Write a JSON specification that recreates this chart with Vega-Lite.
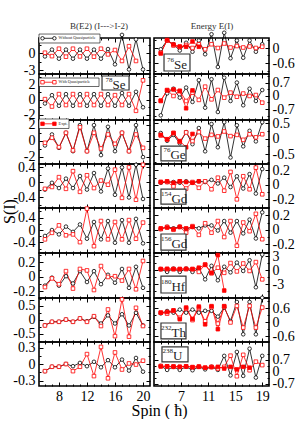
{
"$schema":"https://vega.github.io/schema/vega-lite/v6.json",
"background":"white",
"padding":{"left":0,"top":20,"right":0,"bottom":0},
"config":{"view":{"stroke":"black","strokeWidth":1.6},
"axis":{"domain":false,"grid":false,"tickColor":"black","tickWidth":1,"labelFont":"Liberation Serif","labelFontSize":14,"labelColor":"black","titleFont":"Liberation Serif","titleFontWeight":"normal","titleColor":"black","labelFlush":false,"labelOverlap":false,"labelExpr":"datum.value + ''"}},
"data":{"values":[
{"p":"L1","s":"wo","x":6,"y":-0.6},{"p":"L1","s":"wo","x":7,"y":0.6},{"p":"L1","s":"wo","x":8,"y":-1.0},{"p":"L1","s":"wo","x":9,"y":0.6},{"p":"L1","s":"wo","x":10,"y":-1.0},{"p":"L1","s":"wo","x":11,"y":0.6},{"p":"L1","s":"wo","x":12,"y":-1.0},{"p":"L1","s":"wo","x":13,"y":0.6},{"p":"L1","s":"wo","x":14,"y":-1.0},{"p":"L1","s":"wo","x":15,"y":0.7},{"p":"L1","s":"wo","x":16,"y":-2.0},{"p":"L1","s":"wo","x":17,"y":3.2},{"p":"L1","s":"wo","x":18,"y":-2.9},{"p":"L1","s":"wo","x":19,"y":2.4},{"p":"L1","s":"wo","x":20,"y":-2.9},
{"p":"L1","s":"w","x":6,"y":0.05},{"p":"L1","s":"w","x":7,"y":-0.55},{"p":"L1","s":"w","x":8,"y":0.76},{"p":"L1","s":"w","x":9,"y":-0.65},{"p":"L1","s":"w","x":10,"y":0.76},{"p":"L1","s":"w","x":11,"y":-0.6},{"p":"L1","s":"w","x":12,"y":0.76},{"p":"L1","s":"w","x":13,"y":-0.65},{"p":"L1","s":"w","x":14,"y":0.76},{"p":"L1","s":"w","x":15,"y":-0.24},{"p":"L1","s":"w","x":16,"y":0.53},{"p":"L1","s":"w","x":17,"y":-1.4},{"p":"L1","s":"w","x":18,"y":1.2},{"p":"L1","s":"w","x":19,"y":-1.4},
{"p":"L2","s":"wo","x":6,"y":-0.49},{"p":"L2","s":"wo","x":7,"y":0.62},{"p":"L2","s":"wo","x":8,"y":-0.8},{"p":"L2","s":"wo","x":9,"y":0.76},{"p":"L2","s":"wo","x":10,"y":-0.8},{"p":"L2","s":"wo","x":11,"y":0.76},{"p":"L2","s":"wo","x":12,"y":-0.8},{"p":"L2","s":"wo","x":13,"y":0.76},{"p":"L2","s":"wo","x":14,"y":-0.8},{"p":"L2","s":"wo","x":15,"y":0.76},{"p":"L2","s":"wo","x":16,"y":-0.8},{"p":"L2","s":"wo","x":17,"y":0.9},{"p":"L2","s":"wo","x":18,"y":-0.8},{"p":"L2","s":"wo","x":19,"y":1.07},{"p":"L2","s":"wo","x":20,"y":-1.0},
{"p":"L2","s":"w","x":6,"y":0.09},{"p":"L2","s":"w","x":7,"y":-0.9},{"p":"L2","s":"w","x":8,"y":0.76},{"p":"L2","s":"w","x":9,"y":-0.7},{"p":"L2","s":"w","x":10,"y":0.76},{"p":"L2","s":"w","x":11,"y":-0.7},{"p":"L2","s":"w","x":12,"y":0.76},{"p":"L2","s":"w","x":13,"y":-0.7},{"p":"L2","s":"w","x":14,"y":0.76},{"p":"L2","s":"w","x":15,"y":-0.7},{"p":"L2","s":"w","x":16,"y":0.62},{"p":"L2","s":"w","x":17,"y":-0.7},{"p":"L2","s":"w","x":18,"y":0.76},{"p":"L2","s":"w","x":19,"y":-1.47},{"p":"L2","s":"w","x":20,"y":2.6},
{"p":"L3","s":"wo","x":6,"y":-0.58},{"p":"L3","s":"wo","x":7,"y":0.79},{"p":"L3","s":"wo","x":8,"y":-0.88},{"p":"L3","s":"wo","x":9,"y":1.0},{"p":"L3","s":"wo","x":10,"y":-1.3},{"p":"L3","s":"wo","x":11,"y":1.96},{"p":"L3","s":"wo","x":12,"y":-1.3},{"p":"L3","s":"wo","x":13,"y":1.96},{"p":"L3","s":"wo","x":14,"y":-1.79},{"p":"L3","s":"wo","x":15,"y":1.75},{"p":"L3","s":"wo","x":16,"y":-1.3},{"p":"L3","s":"wo","x":17,"y":1.0},{"p":"L3","s":"wo","x":18,"y":-1.3},{"p":"L3","s":"wo","x":19,"y":1.96},{"p":"L3","s":"wo","x":20,"y":-2.04},
{"p":"L3","s":"w","x":6,"y":-0.25},{"p":"L3","s":"w","x":7,"y":0.38},{"p":"L3","s":"w","x":8,"y":-0.79},{"p":"L3","s":"w","x":9,"y":1.0},{"p":"L3","s":"w","x":10,"y":-1.2},{"p":"L3","s":"w","x":11,"y":1.7},{"p":"L3","s":"w","x":12,"y":-1.3},{"p":"L3","s":"w","x":13,"y":1.0},{"p":"L3","s":"w","x":14,"y":-0.96},{"p":"L3","s":"w","x":15,"y":0.79},{"p":"L3","s":"w","x":16,"y":-0.38},{"p":"L3","s":"w","x":17,"y":1.0},{"p":"L3","s":"w","x":18,"y":-1.3},{"p":"L3","s":"w","x":19,"y":0.79},{"p":"L3","s":"w","x":20,"y":-0.88},
{"p":"L4","s":"wo","x":6,"y":-0.19},{"p":"L4","s":"wo","x":7,"y":-0.01},{"p":"L4","s":"wo","x":8,"y":-0.15},{"p":"L4","s":"wo","x":9,"y":0.1},{"p":"L4","s":"wo","x":10,"y":-0.15},{"p":"L4","s":"wo","x":11,"y":0.17},{"p":"L4","s":"wo","x":12,"y":-0.19},{"p":"L4","s":"wo","x":13,"y":0.25},{"p":"L4","s":"wo","x":14,"y":-0.24},{"p":"L4","s":"wo","x":15,"y":0.37},{"p":"L4","s":"wo","x":16,"y":-0.33},{"p":"L4","s":"wo","x":17,"y":0.4},{"p":"L4","s":"wo","x":18,"y":-0.4},{"p":"L4","s":"wo","x":19,"y":0.47},{"p":"L4","s":"wo","x":20,"y":-0.44},
{"p":"L4","s":"w","x":6,"y":-0.17},{"p":"L4","s":"w","x":7,"y":-0.12},{"p":"L4","s":"w","x":8,"y":0.14},{"p":"L4","s":"w","x":9,"y":-0.17},{"p":"L4","s":"w","x":10,"y":0.3},{"p":"L4","s":"w","x":11,"y":-0.25},{"p":"L4","s":"w","x":12,"y":0.19},{"p":"L4","s":"w","x":13,"y":-0.15},{"p":"L4","s":"w","x":14,"y":0.05},{"p":"L4","s":"w","x":15,"y":-0.06},{"p":"L4","s":"w","x":16,"y":0.34},{"p":"L4","s":"w","x":17,"y":-0.41},{"p":"L4","s":"w","x":18,"y":0.4},{"p":"L4","s":"w","x":19,"y":-0.46},{"p":"L4","s":"w","x":20,"y":0.47},
{"p":"L5","s":"wo","x":6,"y":-0.19},{"p":"L5","s":"wo","x":7,"y":0.0},{"p":"L5","s":"wo","x":8,"y":-0.14},{"p":"L5","s":"wo","x":9,"y":0.11},{"p":"L5","s":"wo","x":10,"y":-0.06},{"p":"L5","s":"wo","x":11,"y":0.18},{"p":"L5","s":"wo","x":12,"y":-0.28},{"p":"L5","s":"wo","x":13,"y":0.26},{"p":"L5","s":"wo","x":14,"y":-0.3},{"p":"L5","s":"wo","x":15,"y":0.29},{"p":"L5","s":"wo","x":16,"y":-0.41},{"p":"L5","s":"wo","x":17,"y":0.32},{"p":"L5","s":"wo","x":18,"y":-0.41},{"p":"L5","s":"wo","x":19,"y":0.36},{"p":"L5","s":"wo","x":20,"y":-0.43},
{"p":"L5","s":"w","x":6,"y":-0.3},{"p":"L5","s":"w","x":7,"y":-0.09},{"p":"L5","s":"w","x":8,"y":0.15},{"p":"L5","s":"w","x":9,"y":-0.17},{"p":"L5","s":"w","x":10,"y":-0.14},{"p":"L5","s":"w","x":11,"y":-0.39},{"p":"L5","s":"w","x":12,"y":0.69},{"p":"L5","s":"w","x":13,"y":-0.52},{"p":"L5","s":"w","x":14,"y":0.29},{"p":"L5","s":"w","x":15,"y":-0.3},{"p":"L5","s":"w","x":16,"y":0.26},{"p":"L5","s":"w","x":17,"y":-0.3},{"p":"L5","s":"w","x":18,"y":0.32},{"p":"L5","s":"w","x":19,"y":-0.28},{"p":"L5","s":"w","x":20,"y":0.24},
{"p":"L6","s":"wo","x":6,"y":-0.12},{"p":"L6","s":"wo","x":7,"y":-0.01},{"p":"L6","s":"wo","x":8,"y":-0.12},{"p":"L6","s":"wo","x":9,"y":0.01},{"p":"L6","s":"wo","x":10,"y":-0.09},{"p":"L6","s":"wo","x":11,"y":0.08},{"p":"L6","s":"wo","x":12,"y":-0.07},{"p":"L6","s":"wo","x":13,"y":0.08},{"p":"L6","s":"wo","x":14,"y":-0.1},{"p":"L6","s":"wo","x":15,"y":0.03},{"p":"L6","s":"wo","x":16,"y":-0.08},{"p":"L6","s":"wo","x":17,"y":0.11},{"p":"L6","s":"wo","x":18,"y":-0.15},{"p":"L6","s":"wo","x":19,"y":0.14},{"p":"L6","s":"wo","x":20,"y":-0.15},
{"p":"L6","s":"w","x":6,"y":-0.14},{"p":"L6","s":"w","x":7,"y":-0.02},{"p":"L6","s":"w","x":8,"y":-0.1},{"p":"L6","s":"w","x":9,"y":0.08},{"p":"L6","s":"w","x":10,"y":-0.16},{"p":"L6","s":"w","x":11,"y":0.11},{"p":"L6","s":"w","x":12,"y":0.09},{"p":"L6","s":"w","x":13,"y":-0.18},{"p":"L6","s":"w","x":14,"y":0.15},{"p":"L6","s":"w","x":15,"y":0.0},{"p":"L6","s":"w","x":16,"y":0.01},{"p":"L6","s":"w","x":17,"y":-0.05},{"p":"L6","s":"w","x":18,"y":0.11},{"p":"L6","s":"w","x":19,"y":-0.17},{"p":"L6","s":"w","x":20,"y":0.22},
{"p":"L7","s":"wo","x":6,"y":-0.2},{"p":"L7","s":"wo","x":7,"y":-0.08},{"p":"L7","s":"wo","x":8,"y":-0.08},{"p":"L7","s":"wo","x":9,"y":0.0},{"p":"L7","s":"wo","x":10,"y":-0.08},{"p":"L7","s":"wo","x":11,"y":0.04},{"p":"L7","s":"wo","x":12,"y":-0.06},{"p":"L7","s":"wo","x":13,"y":0.1},{"p":"L7","s":"wo","x":14,"y":-0.14},{"p":"L7","s":"wo","x":15,"y":0.15},{"p":"L7","s":"wo","x":16,"y":-0.14},{"p":"L7","s":"wo","x":17,"y":0.19},{"p":"L7","s":"wo","x":18,"y":-0.21},{"p":"L7","s":"wo","x":19,"y":0.24},{"p":"L7","s":"wo","x":20,"y":-0.21},
{"p":"L7","s":"w","x":6,"y":-0.21},{"p":"L7","s":"w","x":7,"y":-0.08},{"p":"L7","s":"w","x":8,"y":-0.08},{"p":"L7","s":"w","x":9,"y":0.0},{"p":"L7","s":"w","x":10,"y":-0.08},{"p":"L7","s":"w","x":11,"y":0.04},{"p":"L7","s":"w","x":12,"y":-0.08},{"p":"L7","s":"w","x":13,"y":0.12},{"p":"L7","s":"w","x":14,"y":-0.23},{"p":"L7","s":"w","x":15,"y":0.36},{"p":"L7","s":"w","x":16,"y":-0.59},{"p":"L7","s":"w","x":17,"y":0.72},{"p":"L7","s":"w","x":18,"y":-0.61},{"p":"L7","s":"w","x":19,"y":0.42},{"p":"L7","s":"w","x":20,"y":-0.23},
{"p":"L8","s":"wo","x":6,"y":-0.13},{"p":"L8","s":"wo","x":7,"y":-0.05},{"p":"L8","s":"wo","x":8,"y":-0.05},{"p":"L8","s":"wo","x":9,"y":0.0},{"p":"L8","s":"wo","x":10,"y":-0.04},{"p":"L8","s":"wo","x":11,"y":0.02},{"p":"L8","s":"wo","x":12,"y":-0.04},{"p":"L8","s":"wo","x":13,"y":0.04},{"p":"L8","s":"wo","x":14,"y":-0.06},{"p":"L8","s":"wo","x":15,"y":0.07},{"p":"L8","s":"wo","x":16,"y":-0.06},{"p":"L8","s":"wo","x":17,"y":0.08},{"p":"L8","s":"wo","x":18,"y":-0.12},{"p":"L8","s":"wo","x":19,"y":0.11},{"p":"L8","s":"wo","x":20,"y":-0.14},
{"p":"L8","s":"w","x":6,"y":-0.13},{"p":"L8","s":"w","x":7,"y":-0.05},{"p":"L8","s":"w","x":8,"y":-0.05},{"p":"L8","s":"w","x":9,"y":0.0},{"p":"L8","s":"w","x":10,"y":-0.13},{"p":"L8","s":"w","x":11,"y":-0.05},{"p":"L8","s":"w","x":12,"y":0.18},{"p":"L8","s":"w","x":13,"y":-0.22},{"p":"L8","s":"w","x":14,"y":0.31},{"p":"L8","s":"w","x":15,"y":-0.26},{"p":"L8","s":"w","x":16,"y":0.21},{"p":"L8","s":"w","x":17,"y":-0.1},{"p":"L8","s":"w","x":18,"y":0.01},{"p":"L8","s":"w","x":19,"y":-0.01},{"p":"L8","s":"w","x":20,"y":0.06},
{"p":"R1","s":"wo","x":4,"y":-0.05},{"p":"R1","s":"wo","x":4.94,"y":0.3},{"p":"R1","s":"wo","x":5.88,"y":0.15},{"p":"R1","s":"wo","x":6.81,"y":-0.1},{"p":"R1","s":"wo","x":7.75,"y":0.21},{"p":"R1","s":"wo","x":8.69,"y":-0.15},{"p":"R1","s":"wo","x":9.63,"y":0.3},{"p":"R1","s":"wo","x":10.56,"y":-0.25},{"p":"R1","s":"wo","x":11.5,"y":0.55},{"p":"R1","s":"wo","x":12.44,"y":-0.76},{"p":"R1","s":"wo","x":13.38,"y":0.61},{"p":"R1","s":"wo","x":14.31,"y":-0.41},{"p":"R1","s":"wo","x":15.25,"y":0.3},{"p":"R1","s":"wo","x":16.19,"y":-0.39},{"p":"R1","s":"wo","x":17.13,"y":0.3},{"p":"R1","s":"wo","x":18.06,"y":-0.15},{"p":"R1","s":"wo","x":19,"y":0.15},
{"p":"R1","s":"w","x":4,"y":-0.19},{"p":"R1","s":"w","x":4.94,"y":0.3},{"p":"R1","s":"w","x":5.88,"y":0.1},{"p":"R1","s":"w","x":6.81,"y":0.04},{"p":"R1","s":"w","x":7.75,"y":0.12},{"p":"R1","s":"w","x":8.69,"y":0.0},{"p":"R1","s":"w","x":9.63,"y":0.15},{"p":"R1","s":"w","x":10.56,"y":-0.05},{"p":"R1","s":"w","x":11.5,"y":0.15},{"p":"R1","s":"w","x":12.44,"y":0.0},{"p":"R1","s":"w","x":13.38,"y":0.18},{"p":"R1","s":"w","x":14.31,"y":0.02},{"p":"R1","s":"w","x":15.25,"y":0.08},{"p":"R1","s":"w","x":16.19,"y":0.02},{"p":"R1","s":"w","x":17.13,"y":0.06},{"p":"R1","s":"w","x":18.06,"y":0.0},{"p":"R1","s":"w","x":19,"y":0.05},
{"p":"R1","s":"ex","x":4,"y":-0.22},{"p":"R1","s":"ex","x":4.94,"y":0.32},{"p":"R1","s":"ex","x":5.88,"y":0.14},{"p":"R1","s":"ex","x":6.81,"y":0.06},{"p":"R1","s":"ex","x":7.75,"y":0.05},{"p":"R1","s":"ex","x":8.69,"y":0.26},{"p":"R1","s":"ex","x":9.63,"y":0.05},
{"p":"R2","s":"wo","x":4,"y":-1.04},{"p":"R2","s":"wo","x":4.94,"y":0.14},{"p":"R2","s":"wo","x":5.88,"y":0.39},{"p":"R2","s":"wo","x":6.81,"y":-0.09},{"p":"R2","s":"wo","x":7.75,"y":0.45},{"p":"R2","s":"wo","x":8.69,"y":-0.32},{"p":"R2","s":"wo","x":9.63,"y":0.85},{"p":"R2","s":"wo","x":10.56,"y":-0.63},{"p":"R2","s":"wo","x":11.5,"y":0.9},{"p":"R2","s":"wo","x":12.44,"y":-0.86},{"p":"R2","s":"wo","x":13.38,"y":0.98},{"p":"R2","s":"wo","x":14.31,"y":-0.27},{"p":"R2","s":"wo","x":15.25,"y":0.72},{"p":"R2","s":"wo","x":16.19,"y":-0.5},{"p":"R2","s":"wo","x":17.13,"y":0.39},{"p":"R2","s":"wo","x":18.06,"y":-0.27},{"p":"R2","s":"wo","x":19,"y":0.32},
{"p":"R2","s":"w","x":4,"y":-0.27},{"p":"R2","s":"w","x":4.94,"y":0.32},{"p":"R2","s":"w","x":5.88,"y":0.0},{"p":"R2","s":"w","x":6.81,"y":0.27},{"p":"R2","s":"w","x":7.75,"y":-0.27},{"p":"R2","s":"w","x":8.69,"y":0.18},{"p":"R2","s":"w","x":9.63,"y":-0.21},{"p":"R2","s":"w","x":10.56,"y":0.5},{"p":"R2","s":"w","x":11.5,"y":-0.18},{"p":"R2","s":"w","x":12.44,"y":0.32},{"p":"R2","s":"w","x":13.38,"y":-0.09},{"p":"R2","s":"w","x":14.31,"y":0.18},{"p":"R2","s":"w","x":15.25,"y":-0.04},{"p":"R2","s":"w","x":16.19,"y":0.13},{"p":"R2","s":"w","x":17.13,"y":0.0},{"p":"R2","s":"w","x":18.06,"y":0.05},{"p":"R2","s":"w","x":19,"y":-0.36},
{"p":"R2","s":"ex","x":4,"y":-0.25},{"p":"R2","s":"ex","x":4.94,"y":0.3},{"p":"R2","s":"ex","x":5.88,"y":0.35},{"p":"R2","s":"ex","x":6.81,"y":0.27},{"p":"R2","s":"ex","x":7.75,"y":-0.66},{"p":"R2","s":"ex","x":8.69,"y":0.3},
{"p":"R3","s":"wo","x":4,"y":0.18},{"p":"R3","s":"wo","x":4.94,"y":-0.07},{"p":"R3","s":"wo","x":5.88,"y":0.12},{"p":"R3","s":"wo","x":6.81,"y":-0.15},{"p":"R3","s":"wo","x":7.75,"y":0.21},{"p":"R3","s":"wo","x":8.69,"y":-0.18},{"p":"R3","s":"wo","x":9.63,"y":0.34},{"p":"R3","s":"wo","x":10.56,"y":-0.41},{"p":"R3","s":"wo","x":11.5,"y":0.47},{"p":"R3","s":"wo","x":12.44,"y":-0.28},{"p":"R3","s":"wo","x":13.38,"y":0.53},{"p":"R3","s":"wo","x":14.31,"y":-0.61},{"p":"R3","s":"wo","x":15.25,"y":0.43},{"p":"R3","s":"wo","x":16.19,"y":-0.25},{"p":"R3","s":"wo","x":17.13,"y":0.25},{"p":"R3","s":"wo","x":18.06,"y":-0.09},{"p":"R3","s":"wo","x":19,"y":0.53},
{"p":"R3","s":"w","x":4,"y":0.1},{"p":"R3","s":"w","x":4.94,"y":-0.03},{"p":"R3","s":"w","x":5.88,"y":0.18},{"p":"R3","s":"w","x":6.81,"y":-0.1},{"p":"R3","s":"w","x":7.75,"y":0.2},{"p":"R3","s":"w","x":8.69,"y":-0.08},{"p":"R3","s":"w","x":9.63,"y":0.21},{"p":"R3","s":"w","x":10.56,"y":0.0},{"p":"R3","s":"w","x":11.5,"y":0.12},{"p":"R3","s":"w","x":12.44,"y":0.07},{"p":"R3","s":"w","x":13.38,"y":0.23},{"p":"R3","s":"w","x":14.31,"y":0.08},{"p":"R3","s":"w","x":15.25,"y":0.12},{"p":"R3","s":"w","x":16.19,"y":-0.04},{"p":"R3","s":"w","x":17.13,"y":0.14},{"p":"R3","s":"w","x":18.06,"y":0.04},{"p":"R3","s":"w","x":19,"y":0.14},
{"p":"R3","s":"ex","x":4,"y":0.12},{"p":"R3","s":"ex","x":4.94,"y":-0.02},{"p":"R3","s":"ex","x":5.88,"y":0.18},{"p":"R3","s":"ex","x":6.81,"y":-0.08},{"p":"R3","s":"ex","x":7.75,"y":-0.28},{"p":"R3","s":"ex","x":8.69,"y":0.15},
{"p":"R4","s":"wo","x":4,"y":0.03},{"p":"R4","s":"wo","x":4.94,"y":0.04},{"p":"R4","s":"wo","x":5.88,"y":0.04},{"p":"R4","s":"wo","x":6.81,"y":0.03},{"p":"R4","s":"wo","x":7.75,"y":0.05},{"p":"R4","s":"wo","x":8.69,"y":0.03},{"p":"R4","s":"wo","x":9.63,"y":0.05},{"p":"R4","s":"wo","x":10.56,"y":0.04},{"p":"R4","s":"wo","x":11.5,"y":0.07},{"p":"R4","s":"wo","x":12.44,"y":0.02},{"p":"R4","s":"wo","x":13.38,"y":0.1},{"p":"R4","s":"wo","x":14.31,"y":-0.03},{"p":"R4","s":"wo","x":15.25,"y":0.12},{"p":"R4","s":"wo","x":16.19,"y":-0.05},{"p":"R4","s":"wo","x":17.13,"y":0.15},{"p":"R4","s":"wo","x":18.06,"y":-0.12},{"p":"R4","s":"wo","x":19,"y":0.22},
{"p":"R4","s":"w","x":4,"y":0.04},{"p":"R4","s":"w","x":4.94,"y":0.04},{"p":"R4","s":"w","x":5.88,"y":-0.02},{"p":"R4","s":"w","x":6.81,"y":0.05},{"p":"R4","s":"w","x":7.75,"y":-0.05},{"p":"R4","s":"w","x":8.69,"y":0.04},{"p":"R4","s":"w","x":9.63,"y":-0.04},{"p":"R4","s":"w","x":10.56,"y":0.05},{"p":"R4","s":"w","x":11.5,"y":-0.06},{"p":"R4","s":"w","x":12.44,"y":0.1},{"p":"R4","s":"w","x":13.38,"y":-0.08},{"p":"R4","s":"w","x":14.31,"y":0.18},{"p":"R4","s":"w","x":15.25,"y":-0.2},{"p":"R4","s":"w","x":16.19,"y":0.12},{"p":"R4","s":"w","x":17.13,"y":-0.06},{"p":"R4","s":"w","x":18.06,"y":0.24},{"p":"R4","s":"w","x":19,"y":-0.13},
{"p":"R4","s":"ex","x":4,"y":0.04},{"p":"R4","s":"ex","x":4.94,"y":0.05},{"p":"R4","s":"ex","x":5.88,"y":0.03},{"p":"R4","s":"ex","x":6.81,"y":0.05},{"p":"R4","s":"ex","x":7.75,"y":0.04},{"p":"R4","s":"ex","x":8.69,"y":0.03},{"p":"R4","s":"ex","x":9.63,"y":0.05},
{"p":"R5","s":"wo","x":4,"y":0.01},{"p":"R5","s":"wo","x":4.94,"y":0.04},{"p":"R5","s":"wo","x":5.88,"y":0.02},{"p":"R5","s":"wo","x":6.81,"y":0.04},{"p":"R5","s":"wo","x":7.75,"y":0.01},{"p":"R5","s":"wo","x":8.69,"y":0.04},{"p":"R5","s":"wo","x":9.63,"y":0.02},{"p":"R5","s":"wo","x":10.56,"y":0.06},{"p":"R5","s":"wo","x":11.5,"y":0.06},{"p":"R5","s":"wo","x":12.44,"y":-0.01},{"p":"R5","s":"wo","x":13.38,"y":0.12},{"p":"R5","s":"wo","x":14.31,"y":-0.04},{"p":"R5","s":"wo","x":15.25,"y":0.12},{"p":"R5","s":"wo","x":16.19,"y":-0.05},{"p":"R5","s":"wo","x":17.13,"y":0.14},{"p":"R5","s":"wo","x":18.06,"y":-0.12},{"p":"R5","s":"wo","x":19,"y":0.24},
{"p":"R5","s":"w","x":4,"y":0.01},{"p":"R5","s":"w","x":4.94,"y":0.04},{"p":"R5","s":"w","x":5.88,"y":0.0},{"p":"R5","s":"w","x":6.81,"y":0.04},{"p":"R5","s":"w","x":7.75,"y":-0.04},{"p":"R5","s":"w","x":8.69,"y":0.05},{"p":"R5","s":"w","x":9.63,"y":-0.07},{"p":"R5","s":"w","x":10.56,"y":0.09},{"p":"R5","s":"w","x":11.5,"y":-0.04},{"p":"R5","s":"w","x":12.44,"y":0.12},{"p":"R5","s":"w","x":13.38,"y":-0.1},{"p":"R5","s":"w","x":14.31,"y":0.12},{"p":"R5","s":"w","x":15.25,"y":-0.22},{"p":"R5","s":"w","x":16.19,"y":0.1},{"p":"R5","s":"w","x":17.13,"y":-0.02},{"p":"R5","s":"w","x":18.06,"y":0.22},{"p":"R5","s":"w","x":19,"y":-0.13},
{"p":"R5","s":"ex","x":4,"y":0.02},{"p":"R5","s":"ex","x":4.94,"y":0.03},{"p":"R5","s":"ex","x":5.88,"y":0.01},{"p":"R5","s":"ex","x":6.81,"y":0.04},{"p":"R5","s":"ex","x":7.75,"y":0.02},{"p":"R5","s":"ex","x":8.69,"y":0.04},
{"p":"R6","s":"wo","x":4,"y":0.3},{"p":"R6","s":"wo","x":4.94,"y":-0.3},{"p":"R6","s":"wo","x":5.88,"y":0.4},{"p":"R6","s":"wo","x":6.81,"y":-0.3},{"p":"R6","s":"wo","x":7.75,"y":0.4},{"p":"R6","s":"wo","x":8.69,"y":-0.3},{"p":"R6","s":"wo","x":9.63,"y":0.5},{"p":"R6","s":"wo","x":10.56,"y":-1.9},{"p":"R6","s":"wo","x":11.5,"y":1.0},{"p":"R6","s":"wo","x":12.44,"y":-2.1},{"p":"R6","s":"wo","x":13.38,"y":0.8},{"p":"R6","s":"wo","x":14.31,"y":-0.4},{"p":"R6","s":"wo","x":15.25,"y":1.7},{"p":"R6","s":"wo","x":16.19,"y":-0.1},{"p":"R6","s":"wo","x":17.13,"y":2.2},{"p":"R6","s":"wo","x":18.06,"y":-3.6},{"p":"R6","s":"wo","x":19,"y":3.4},
{"p":"R6","s":"w","x":4,"y":0.3},{"p":"R6","s":"w","x":4.94,"y":0.3},{"p":"R6","s":"w","x":5.88,"y":0.3},{"p":"R6","s":"w","x":6.81,"y":0.3},{"p":"R6","s":"w","x":7.75,"y":0.3},{"p":"R6","s":"w","x":8.69,"y":0.3},{"p":"R6","s":"w","x":9.63,"y":-0.3},{"p":"R6","s":"w","x":10.56,"y":1.3},{"p":"R6","s":"w","x":11.5,"y":-0.6},{"p":"R6","s":"w","x":12.44,"y":0.6},{"p":"R6","s":"w","x":13.38,"y":-0.5},{"p":"R6","s":"w","x":14.31,"y":1.6},{"p":"R6","s":"w","x":15.25,"y":-0.2},{"p":"R6","s":"w","x":16.19,"y":1.5},{"p":"R6","s":"w","x":17.13,"y":-0.1},{"p":"R6","s":"w","x":18.06,"y":1.8},{"p":"R6","s":"w","x":19,"y":-1.9},
{"p":"R6","s":"ex","x":4,"y":0.3},{"p":"R6","s":"ex","x":4.94,"y":0.35},{"p":"R6","s":"ex","x":5.88,"y":0.3},{"p":"R6","s":"ex","x":6.81,"y":0.3},{"p":"R6","s":"ex","x":7.75,"y":0.35},{"p":"R6","s":"ex","x":8.69,"y":0.3},{"p":"R6","s":"ex","x":9.63,"y":0.6},{"p":"R6","s":"ex","x":10.56,"y":1.2},{"p":"R6","s":"ex","x":11.5,"y":-0.5},{"p":"R6","s":"ex","x":12.44,"y":3.3},{"p":"R6","s":"ex","x":13.38,"y":-4.3},
{"p":"R7","s":"wo","x":4,"y":0.39},{"p":"R7","s":"wo","x":4.94,"y":0.49},{"p":"R7","s":"wo","x":5.88,"y":0.42},{"p":"R7","s":"wo","x":6.81,"y":0.55},{"p":"R7","s":"wo","x":7.75,"y":0.42},{"p":"R7","s":"wo","x":8.69,"y":0.55},{"p":"R7","s":"wo","x":9.63,"y":0.42},{"p":"R7","s":"wo","x":10.56,"y":0.5},{"p":"R7","s":"wo","x":11.5,"y":0.5},{"p":"R7","s":"wo","x":12.44,"y":0.25},{"p":"R7","s":"wo","x":13.38,"y":0.64},{"p":"R7","s":"wo","x":14.31,"y":0.06},{"p":"R7","s":"wo","x":15.25,"y":0.88},{"p":"R7","s":"wo","x":16.19,"y":-0.51},{"p":"R7","s":"wo","x":17.13,"y":0.88},{"p":"R7","s":"wo","x":18.06,"y":-0.51},{"p":"R7","s":"wo","x":19,"y":1.06},
{"p":"R7","s":"w","x":4,"y":0.42},{"p":"R7","s":"w","x":4.94,"y":0.38},{"p":"R7","s":"w","x":5.88,"y":0.5},{"p":"R7","s":"w","x":6.81,"y":0.2},{"p":"R7","s":"w","x":7.75,"y":0.6},{"p":"R7","s":"w","x":8.69,"y":0.1},{"p":"R7","s":"w","x":9.63,"y":0.62},{"p":"R7","s":"w","x":10.56,"y":0.05},{"p":"R7","s":"w","x":11.5,"y":0.66},{"p":"R7","s":"w","x":12.44,"y":-0.05},{"p":"R7","s":"w","x":13.38,"y":0.68},{"p":"R7","s":"w","x":14.31,"y":0.0},{"p":"R7","s":"w","x":15.25,"y":0.71},{"p":"R7","s":"w","x":16.19,"y":-0.22},{"p":"R7","s":"w","x":17.13,"y":0.71},{"p":"R7","s":"w","x":18.06,"y":-0.22},{"p":"R7","s":"w","x":19,"y":0.64},
{"p":"R7","s":"ex","x":4,"y":0.42},{"p":"R7","s":"ex","x":4.94,"y":0.45},{"p":"R7","s":"ex","x":5.88,"y":0.52},{"p":"R7","s":"ex","x":6.81,"y":0.14},{"p":"R7","s":"ex","x":7.75,"y":0.64},{"p":"R7","s":"ex","x":8.69,"y":0.15},{"p":"R7","s":"ex","x":9.63,"y":0.68},{"p":"R7","s":"ex","x":10.56,"y":-0.08},{"p":"R7","s":"ex","x":11.5,"y":0.7},{"p":"R7","s":"ex","x":12.44,"y":-0.29},{"p":"R7","s":"ex","x":13.38,"y":0.7},
{"p":"R8","s":"wo","x":4,"y":0.35},{"p":"R8","s":"wo","x":4.94,"y":0.12},{"p":"R8","s":"wo","x":5.88,"y":0.3},{"p":"R8","s":"wo","x":6.81,"y":0.12},{"p":"R8","s":"wo","x":7.75,"y":0.3},{"p":"R8","s":"wo","x":8.69,"y":0.1},{"p":"R8","s":"wo","x":9.63,"y":0.3},{"p":"R8","s":"wo","x":10.56,"y":0.15},{"p":"R8","s":"wo","x":11.5,"y":0.3},{"p":"R8","s":"wo","x":12.44,"y":0.12},{"p":"R8","s":"wo","x":13.38,"y":0.94},{"p":"R8","s":"wo","x":14.31,"y":-0.2},{"p":"R8","s":"wo","x":15.25,"y":1.17},{"p":"R8","s":"wo","x":16.19,"y":-0.23},{"p":"R8","s":"wo","x":17.13,"y":1.36},{"p":"R8","s":"wo","x":18.06,"y":-0.33},{"p":"R8","s":"wo","x":19,"y":0.94},
{"p":"R8","s":"w","x":4,"y":0.35},{"p":"R8","s":"w","x":4.94,"y":0.32},{"p":"R8","s":"w","x":5.88,"y":0.33},{"p":"R8","s":"w","x":6.81,"y":0.3},{"p":"R8","s":"w","x":7.75,"y":0.33},{"p":"R8","s":"w","x":8.69,"y":0.28},{"p":"R8","s":"w","x":9.63,"y":0.32},{"p":"R8","s":"w","x":10.56,"y":0.25},{"p":"R8","s":"w","x":11.5,"y":0.3},{"p":"R8","s":"w","x":12.44,"y":0.2},{"p":"R8","s":"w","x":13.38,"y":0.3},{"p":"R8","s":"w","x":14.31,"y":0.95},{"p":"R8","s":"w","x":15.25,"y":-0.25},{"p":"R8","s":"w","x":16.19,"y":1.0},{"p":"R8","s":"w","x":17.13,"y":0.1},{"p":"R8","s":"w","x":18.06,"y":0.6},{"p":"R8","s":"w","x":19,"y":0.4},
{"p":"R8","s":"ex","x":4,"y":0.32},{"p":"R8","s":"ex","x":4.94,"y":0.33},{"p":"R8","s":"ex","x":5.88,"y":0.3},{"p":"R8","s":"ex","x":6.81,"y":0.3},{"p":"R8","s":"ex","x":7.75,"y":0.32},{"p":"R8","s":"ex","x":8.69,"y":0.28},{"p":"R8","s":"ex","x":9.63,"y":0.3},{"p":"R8","s":"ex","x":10.56,"y":0.25},{"p":"R8","s":"ex","x":11.5,"y":0.28},{"p":"R8","s":"ex","x":12.44,"y":0.3},{"p":"R8","s":"ex","x":13.38,"y":0.2},{"p":"R8","s":"ex","x":14.31,"y":0.3},{"p":"R8","s":"ex","x":15.25,"y":0.15},{"p":"R8","s":"ex","x":16.19,"y":0.3},{"p":"R8","s":"ex","x":17.13,"y":0.25}
]},
"columns":2,
"spacing":{"row":0,"column":4},
"bounds":"flush",
"align":"each",
"concat":[
{"width":111,"height":36,
"layer":[
{"transform":[{"filter":"datum.p=='L1'"}],"mark":{"type":"line","strokeWidth":0.8,"clip":false},"encoding":{
"x":{"field":"x","type":"quantitative","scale":{"domain":[5.15,21],"nice":false,"zero":false},"axis":{"orient":"bottom","values":[8,12,16,20],"tickSize":-4,"labels":false,"title":null}},
"y":{"field":"y","type":"quantitative","scale":{"domain":[-3.7,2.65],"nice":false,"zero":false},"axis":{"orient":"left","values":[-3,0,3],"tickSize":-4,"labelPadding":8,"title":null}},
"color":{"field":"s","type":"nominal","scale":{"domain":["wo","w","ex"],"range":["black","#ff0000","#ff0000"]},"legend":null}}},
{"transform":[{"filter":"datum.p=='L1'"}],"mark":{"type":"point","size":13,"strokeWidth":0.8,"opacity":1,"clip":false},"encoding":{
"x":{"field":"x","type":"quantitative","scale":{"domain":[5.15,21],"nice":false,"zero":false},"axis":{"orient":"top","values":[8,12,16,20],"tickSize":-4,"labels":false,"title":"B(E2) (I--->I-2)","titleX":59.5,"titleY":-10,"titleAlign":"center","titleBaseline":"alphabetic","titleFontSize":9,"titleColor":"#333"}},
"y":{"field":"y","type":"quantitative","scale":{"domain":[-3.7,2.65],"nice":false,"zero":false},"axis":{"orient":"right","values":[-3,0,3],"tickSize":-4,"labels":false,"title":null}},
"stroke":{"field":"s","type":"nominal","scale":{"domain":["wo","w","ex"],"range":["black","#ff0000","#ff0000"]},"legend":null},
"fill":{"field":"s","type":"nominal","scale":{"domain":["wo","w","ex"],"range":["white","white","#ff0000"]},"legend":null},
"shape":{"field":"s","type":"nominal","scale":{"domain":["wo","w","ex"],"range":["circle","square","square"]},"legend":null}}},
{"transform":[{"filter":"datum.p=='L1'"}],"mark":{"type":"point","opacity":0},"encoding":{
"x":{"field":"x","type":"quantitative","scale":{"domain":[5.15,21],"nice":false,"zero":false},"axis":{"orient":"bottom","values":[6,7,9,10,11,13,14,15,17,18,19],"tickSize":-2,"labels":false,"title":null}},
"y":{"field":"y","type":"quantitative","scale":{"domain":[-3.7,2.65],"nice":false,"zero":false},"axis":{"orient":"left","values":[-1.5,1.5],"tickSize":-2,"labels":false,"title":null}}}},
{"transform":[{"filter":"datum.p=='L1'"}],"mark":{"type":"point","opacity":0},"encoding":{
"x":{"field":"x","type":"quantitative","scale":{"domain":[5.15,21],"nice":false,"zero":false},"axis":{"orient":"top","values":[6,7,9,10,11,13,14,15,17,18,19],"tickSize":-2,"labels":false,"title":null}},
"y":{"field":"y","type":"quantitative","scale":{"domain":[-3.7,2.65],"nice":false,"zero":false},"axis":{"orient":"right","values":[-1.5,1.5],"tickSize":-2,"labels":false,"title":null}}}},
{"data":{"values":[{}]},"mark":{"type":"rect","fill":"white","stroke":"black","strokeWidth":0.6},"encoding":{"x":{"datum":5.15,"axis":null},"x2":{"datum":13.86},"y":{"datum":3.35,"axis":null},"y2":{"datum":1.77}}},
{"data":{"values":[{}]},"mark":{"type":"rule","color":"black","strokeWidth":0.8},"encoding":{"x":{"datum":5.45,"axis":null},"x2":{"datum":7.55},"y":{"datum":2.6,"axis":null}}},
{"data":{"values":[{}]},"mark":{"type":"point","shape":"circle","size":12,"filled":true,"fill":"white","stroke":"black","strokeWidth":0.8,"opacity":1},"encoding":{"x":{"datum":5.65,"axis":null},"y":{"datum":2.6,"axis":null}}},
{"data":{"values":[{}]},"mark":{"type":"point","shape":"circle","size":12,"filled":true,"fill":"white","stroke":"black","strokeWidth":0.8,"opacity":1},"encoding":{"x":{"datum":7.35,"axis":null},"y":{"datum":2.6,"axis":null}}},
{"data":{"values":[{}]},"mark":{"type":"text","text":"Without Quasiparticle","fontSize":4.2,"font":"Liberation Serif","align":"left","baseline":"middle","color":"#222"},"encoding":{"x":{"datum":7.95,"axis":null},"y":{"datum":2.6,"axis":null}}}
],
"resolve":{"axis":{"x":"independent","y":"independent"}}},

{"width":115,"height":36,
"layer":[
{"transform":[{"filter":"datum.p=='R1'"}],"mark":{"type":"line","strokeWidth":0.8,"clip":false},"encoding":{
"x":{"field":"x","type":"quantitative","scale":{"domain":[3,20],"nice":false,"zero":false},"axis":{"orient":"bottom","values":[7,11,15,19],"tickSize":-4,"labels":false,"title":null}},
"y":{"field":"y","type":"quantitative","scale":{"domain":[-1.04,0.4],"nice":false,"zero":false},"axis":{"orient":"left","values":[-0.6,0,0.6],"tickSize":-4,"labels":false,"title":null}},
"color":{"field":"s","type":"nominal","scale":{"domain":["wo","w","ex"],"range":["black","#ff0000","#ff0000"]},"legend":null}}},
{"transform":[{"filter":"datum.p=='R1'"}],"mark":{"type":"point","size":13,"strokeWidth":0.8,"opacity":1,"clip":false},"encoding":{
"x":{"field":"x","type":"quantitative","scale":{"domain":[3,20],"nice":false,"zero":false},"axis":{"orient":"top","values":[7,11,15,19],"tickSize":-4,"labels":false,"title":"Energy E(I)","titleX":57.5,"titleY":-10,"titleAlign":"center","titleBaseline":"alphabetic","titleFontSize":9,"titleColor":"#333"}},
"y":{"field":"y","type":"quantitative","scale":{"domain":[-1.04,0.4],"nice":false,"zero":false},"axis":{"orient":"right","values":[-0.6,0,0.6],"tickSize":-4,"labelPadding":7,"title":null}},
"stroke":{"field":"s","type":"nominal","scale":{"domain":["wo","w","ex"],"range":["black","#ff0000","#ff0000"]},"legend":null},
"fill":{"field":"s","type":"nominal","scale":{"domain":["wo","w","ex"],"range":["white","white","#ff0000"]},"legend":null},
"shape":{"field":"s","type":"nominal","scale":{"domain":["wo","w","ex"],"range":["circle","square","square"]},"legend":null}}},
{"transform":[{"filter":"datum.p=='R1'"}],"mark":{"type":"point","opacity":0},"encoding":{
"x":{"field":"x","type":"quantitative","scale":{"domain":[3,20],"nice":false,"zero":false},"axis":{"orient":"bottom","values":[4,5,6,8,9,10,12,13,14,16,17,18],"tickSize":-2,"labels":false,"title":null}},
"y":{"field":"y","type":"quantitative","scale":{"domain":[-1.04,0.4],"nice":false,"zero":false},"axis":{"orient":"left","values":[-0.9,-0.3,0.3],"tickSize":-2,"labels":false,"title":null}}}},
{"transform":[{"filter":"datum.p=='R1'"}],"mark":{"type":"point","opacity":0},"encoding":{
"x":{"field":"x","type":"quantitative","scale":{"domain":[3,20],"nice":false,"zero":false},"axis":{"orient":"top","values":[4,5,6,8,9,10,12,13,14,16,17,18],"tickSize":-2,"labels":false,"title":null}},
"y":{"field":"y","type":"quantitative","scale":{"domain":[-1.04,0.4],"nice":false,"zero":false},"axis":{"orient":"right","values":[-0.9,-0.3,0.3],"tickSize":-2,"labels":false,"title":null}}}},
{"data":{"values":[{}]},"mark":{"type":"rect","fill":"white","stroke":"#333","strokeWidth":1.2},"encoding":{"x":{"datum":4.48,"axis":null},"x2":{"datum":8.32},"y":{"datum":-0.24,"axis":null},"y2":{"datum":-0.92}}},
{"data":{"values":[{}]},"mark":{"type":"text","text":"76","fontSize":7,"font":"Liberation Serif","align":"right","baseline":"middle","dx":-3,"dy":-3,"color":"#222"},"encoding":{"x":{"datum":6.4,"axis":null},"y":{"datum":-0.58,"axis":null}}},
{"data":{"values":[{}]},"mark":{"type":"text","text":"Se","fontSize":13,"font":"Liberation Serif","align":"left","baseline":"middle","dx":-3,"dy":2,"color":"#222"},"encoding":{"x":{"datum":6.4,"axis":null},"y":{"datum":-0.58,"axis":null}}}
],
"resolve":{"axis":{"x":"independent","y":"independent"}}},

{"width":111,"height":46,
"layer":[
{"transform":[{"filter":"datum.p=='L2'"}],"mark":{"type":"line","strokeWidth":0.8,"clip":false},"encoding":{
"x":{"field":"x","type":"quantitative","scale":{"domain":[5.15,21],"nice":false,"zero":false},"axis":{"orient":"bottom","values":[8,12,16,20],"tickSize":-4,"labels":false,"title":null}},
"y":{"field":"y","type":"quantitative","scale":{"domain":[-2.7,3.45],"nice":false,"zero":false},"axis":{"orient":"left","values":[-2,0,2],"tickSize":-4,"labelPadding":8,"title":null}},
"color":{"field":"s","type":"nominal","scale":{"domain":["wo","w","ex"],"range":["black","#ff0000","#ff0000"]},"legend":null}}},
{"transform":[{"filter":"datum.p=='L2'"}],"mark":{"type":"point","size":13,"strokeWidth":0.8,"opacity":1,"clip":false},"encoding":{
"x":{"field":"x","type":"quantitative","scale":{"domain":[5.15,21],"nice":false,"zero":false},"axis":{"orient":"top","values":[8,12,16,20],"tickSize":-4,"labels":false,"title":null}},
"y":{"field":"y","type":"quantitative","scale":{"domain":[-2.7,3.45],"nice":false,"zero":false},"axis":{"orient":"right","values":[-2,0,2],"tickSize":-4,"labels":false,"title":null}},
"stroke":{"field":"s","type":"nominal","scale":{"domain":["wo","w","ex"],"range":["black","#ff0000","#ff0000"]},"legend":null},
"fill":{"field":"s","type":"nominal","scale":{"domain":["wo","w","ex"],"range":["white","white","#ff0000"]},"legend":null},
"shape":{"field":"s","type":"nominal","scale":{"domain":["wo","w","ex"],"range":["circle","square","square"]},"legend":null}}},
{"transform":[{"filter":"datum.p=='L2'"}],"mark":{"type":"point","opacity":0},"encoding":{
"x":{"field":"x","type":"quantitative","scale":{"domain":[5.15,21],"nice":false,"zero":false},"axis":{"orient":"bottom","values":[6,7,9,10,11,13,14,15,17,18,19],"tickSize":-2,"labels":false,"title":null}},
"y":{"field":"y","type":"quantitative","scale":{"domain":[-2.7,3.45],"nice":false,"zero":false},"axis":{"orient":"left","values":[-1,1,3],"tickSize":-2,"labels":false,"title":null}}}},
{"transform":[{"filter":"datum.p=='L2'"}],"mark":{"type":"point","opacity":0},"encoding":{
"x":{"field":"x","type":"quantitative","scale":{"domain":[5.15,21],"nice":false,"zero":false},"axis":{"orient":"top","values":[6,7,9,10,11,13,14,15,17,18,19],"tickSize":-2,"labels":false,"title":null}},
"y":{"field":"y","type":"quantitative","scale":{"domain":[-2.7,3.45],"nice":false,"zero":false},"axis":{"orient":"right","values":[-1,1,3],"tickSize":-2,"labels":false,"title":null}}}},
{"data":{"values":[{}]},"mark":{"type":"rect","fill":"white","stroke":"black","strokeWidth":0.6},"encoding":{"x":{"datum":5.15,"axis":null},"x2":{"datum":13.72},"y":{"datum":2.915,"axis":null},"y2":{"datum":1.78}}},
{"data":{"values":[{}]},"mark":{"type":"rule","color":"#ff0000","strokeWidth":0.8},"encoding":{"x":{"datum":5.45,"axis":null},"x2":{"datum":7.55},"y":{"datum":2.35,"axis":null}}},
{"data":{"values":[{}]},"mark":{"type":"point","shape":"square","size":12,"filled":true,"fill":"white","stroke":"#ff0000","strokeWidth":0.8,"opacity":1},"encoding":{"x":{"datum":5.65,"axis":null},"y":{"datum":2.35,"axis":null}}},
{"data":{"values":[{}]},"mark":{"type":"point","shape":"square","size":12,"filled":true,"fill":"white","stroke":"#ff0000","strokeWidth":0.8,"opacity":1},"encoding":{"x":{"datum":7.35,"axis":null},"y":{"datum":2.35,"axis":null}}},
{"data":{"values":[{}]},"mark":{"type":"text","text":"With Quasiparticle","fontSize":4.2,"font":"Liberation Serif","align":"left","baseline":"middle","color":"#222"},"encoding":{"x":{"datum":7.95,"axis":null},"y":{"datum":2.35,"axis":null}}},
{"data":{"values":[{}]},"mark":{"type":"rect","fill":"white","stroke":"#333","strokeWidth":1.2},"encoding":{"x":{"datum":14.15,"axis":null},"x2":{"datum":18.01},"y":{"datum":3.18,"axis":null},"y2":{"datum":1.31}}},
{"data":{"values":[{}]},"mark":{"type":"text","text":"78","fontSize":7,"font":"Liberation Serif","align":"right","baseline":"middle","dx":-3,"dy":-3,"color":"#222"},"encoding":{"x":{"datum":16.08,"axis":null},"y":{"datum":2.245,"axis":null}}},
{"data":{"values":[{}]},"mark":{"type":"text","text":"Se","fontSize":13,"font":"Liberation Serif","align":"left","baseline":"middle","dx":-3,"dy":2,"color":"#222"},"encoding":{"x":{"datum":16.08,"axis":null},"y":{"datum":2.245,"axis":null}}}
],
"resolve":{"axis":{"x":"independent","y":"independent"}}},

{"width":115,"height":46,
"layer":[
{"transform":[{"filter":"datum.p=='R2'"}],"mark":{"type":"line","strokeWidth":0.8,"clip":false},"encoding":{
"x":{"field":"x","type":"quantitative","scale":{"domain":[3,20],"nice":false,"zero":false},"axis":{"orient":"bottom","values":[7,11,15,19],"tickSize":-4,"labels":false,"title":null}},
"y":{"field":"y","type":"quantitative","scale":{"domain":[-1.29,1.18],"nice":false,"zero":false},"axis":{"orient":"left","values":[-0.7,0,0.7],"tickSize":-4,"labels":false,"title":null}},
"color":{"field":"s","type":"nominal","scale":{"domain":["wo","w","ex"],"range":["black","#ff0000","#ff0000"]},"legend":null}}},
{"transform":[{"filter":"datum.p=='R2'"}],"mark":{"type":"point","size":13,"strokeWidth":0.8,"opacity":1,"clip":false},"encoding":{
"x":{"field":"x","type":"quantitative","scale":{"domain":[3,20],"nice":false,"zero":false},"axis":{"orient":"top","values":[7,11,15,19],"tickSize":-4,"labels":false,"title":null}},
"y":{"field":"y","type":"quantitative","scale":{"domain":[-1.29,1.18],"nice":false,"zero":false},"axis":{"orient":"right","values":[-0.7,0,0.7],"tickSize":-4,"labelPadding":7,"title":null}},
"stroke":{"field":"s","type":"nominal","scale":{"domain":["wo","w","ex"],"range":["black","#ff0000","#ff0000"]},"legend":null},
"fill":{"field":"s","type":"nominal","scale":{"domain":["wo","w","ex"],"range":["white","white","#ff0000"]},"legend":null},
"shape":{"field":"s","type":"nominal","scale":{"domain":["wo","w","ex"],"range":["circle","square","square"]},"legend":null}}},
{"transform":[{"filter":"datum.p=='R2'"}],"mark":{"type":"point","opacity":0},"encoding":{
"x":{"field":"x","type":"quantitative","scale":{"domain":[3,20],"nice":false,"zero":false},"axis":{"orient":"bottom","values":[4,5,6,8,9,10,12,13,14,16,17,18],"tickSize":-2,"labels":false,"title":null}},
"y":{"field":"y","type":"quantitative","scale":{"domain":[-1.29,1.18],"nice":false,"zero":false},"axis":{"orient":"left","values":[-1.05,-0.35,0.35,1.05],"tickSize":-2,"labels":false,"title":null}}}},
{"transform":[{"filter":"datum.p=='R2'"}],"mark":{"type":"point","opacity":0},"encoding":{
"x":{"field":"x","type":"quantitative","scale":{"domain":[3,20],"nice":false,"zero":false},"axis":{"orient":"top","values":[4,5,6,8,9,10,12,13,14,16,17,18],"tickSize":-2,"labels":false,"title":null}},
"y":{"field":"y","type":"quantitative","scale":{"domain":[-1.29,1.18],"nice":false,"zero":false},"axis":{"orient":"right","values":[-1.05,-0.35,0.35,1.05],"tickSize":-2,"labels":false,"title":null}}}}
],
"resolve":{"axis":{"x":"independent","y":"independent"}}},

{"width":111,"height":44,
"layer":[
{"transform":[{"filter":"datum.p=='L3'"}],"mark":{"type":"line","strokeWidth":0.8,"clip":false},"encoding":{
"x":{"field":"x","type":"quantitative","scale":{"domain":[5.15,21],"nice":false,"zero":false},"axis":{"orient":"bottom","values":[8,12,16,20],"tickSize":-4,"labels":false,"title":null}},
"y":{"field":"y","type":"quantitative","scale":{"domain":[-2.9,2.6],"nice":false,"zero":false},"axis":{"orient":"left","values":[-2,0,2],"tickSize":-4,"labelPadding":8,"title":null}},
"color":{"field":"s","type":"nominal","scale":{"domain":["wo","w","ex"],"range":["black","#ff0000","#ff0000"]},"legend":null}}},
{"transform":[{"filter":"datum.p=='L3'"}],"mark":{"type":"point","size":13,"strokeWidth":0.8,"opacity":1,"clip":false},"encoding":{
"x":{"field":"x","type":"quantitative","scale":{"domain":[5.15,21],"nice":false,"zero":false},"axis":{"orient":"top","values":[8,12,16,20],"tickSize":-4,"labels":false,"title":null}},
"y":{"field":"y","type":"quantitative","scale":{"domain":[-2.9,2.6],"nice":false,"zero":false},"axis":{"orient":"right","values":[-2,0,2],"tickSize":-4,"labels":false,"title":null}},
"stroke":{"field":"s","type":"nominal","scale":{"domain":["wo","w","ex"],"range":["black","#ff0000","#ff0000"]},"legend":null},
"fill":{"field":"s","type":"nominal","scale":{"domain":["wo","w","ex"],"range":["white","white","#ff0000"]},"legend":null},
"shape":{"field":"s","type":"nominal","scale":{"domain":["wo","w","ex"],"range":["circle","square","square"]},"legend":null}}},
{"transform":[{"filter":"datum.p=='L3'"}],"mark":{"type":"point","opacity":0},"encoding":{
"x":{"field":"x","type":"quantitative","scale":{"domain":[5.15,21],"nice":false,"zero":false},"axis":{"orient":"bottom","values":[6,7,9,10,11,13,14,15,17,18,19],"tickSize":-2,"labels":false,"title":null}},
"y":{"field":"y","type":"quantitative","scale":{"domain":[-2.9,2.6],"nice":false,"zero":false},"axis":{"orient":"left","values":[-1,1],"tickSize":-2,"labels":false,"title":null}}}},
{"transform":[{"filter":"datum.p=='L3'"}],"mark":{"type":"point","opacity":0},"encoding":{
"x":{"field":"x","type":"quantitative","scale":{"domain":[5.15,21],"nice":false,"zero":false},"axis":{"orient":"top","values":[6,7,9,10,11,13,14,15,17,18,19],"tickSize":-2,"labels":false,"title":null}},
"y":{"field":"y","type":"quantitative","scale":{"domain":[-2.9,2.6],"nice":false,"zero":false},"axis":{"orient":"right","values":[-1,1],"tickSize":-2,"labels":false,"title":null}}}},
{"data":{"values":[{}]},"mark":{"type":"rect","fill":"white","stroke":"black","strokeWidth":0.6},"encoding":{"x":{"datum":5.15,"axis":null},"x2":{"datum":9.43},"y":{"datum":2.725,"axis":null},"y2":{"datum":1.54}}},
{"data":{"values":[{}]},"mark":{"type":"rule","color":"#ff0000","strokeWidth":0.8},"encoding":{"x":{"datum":5.45,"axis":null},"x2":{"datum":7.55},"y":{"datum":2.125,"axis":null}}},
{"data":{"values":[{}]},"mark":{"type":"point","shape":"square","size":12,"filled":true,"fill":"#ff0000","stroke":"#ff0000","strokeWidth":0.8,"opacity":1},"encoding":{"x":{"datum":5.65,"axis":null},"y":{"datum":2.125,"axis":null}}},
{"data":{"values":[{}]},"mark":{"type":"point","shape":"square","size":12,"filled":true,"fill":"#ff0000","stroke":"#ff0000","strokeWidth":0.8,"opacity":1},"encoding":{"x":{"datum":7.35,"axis":null},"y":{"datum":2.125,"axis":null}}},
{"data":{"values":[{}]},"mark":{"type":"text","text":"Expt.","fontSize":4.2,"font":"Liberation Serif","align":"left","baseline":"middle","color":"#222"},"encoding":{"x":{"datum":7.95,"axis":null},"y":{"datum":2.125,"axis":null}}}
],
"resolve":{"axis":{"x":"independent","y":"independent"}}},

{"width":115,"height":44,
"layer":[
{"transform":[{"filter":"datum.p=='R3'"}],"mark":{"type":"line","strokeWidth":0.8,"clip":false},"encoding":{
"x":{"field":"x","type":"quantitative","scale":{"domain":[3,20],"nice":false,"zero":false},"axis":{"orient":"bottom","values":[7,11,15,19],"tickSize":-4,"labels":false,"title":null}},
"y":{"field":"y","type":"quantitative","scale":{"domain":[-0.82,0.6],"nice":false,"zero":false},"axis":{"orient":"left","values":[-0.5,0,0.5],"tickSize":-4,"labels":false,"title":null}},
"color":{"field":"s","type":"nominal","scale":{"domain":["wo","w","ex"],"range":["black","#ff0000","#ff0000"]},"legend":null}}},
{"transform":[{"filter":"datum.p=='R3'"}],"mark":{"type":"point","size":13,"strokeWidth":0.8,"opacity":1,"clip":false},"encoding":{
"x":{"field":"x","type":"quantitative","scale":{"domain":[3,20],"nice":false,"zero":false},"axis":{"orient":"top","values":[7,11,15,19],"tickSize":-4,"labels":false,"title":null}},
"y":{"field":"y","type":"quantitative","scale":{"domain":[-0.82,0.6],"nice":false,"zero":false},"axis":{"orient":"right","values":[-0.5,0,0.5],"tickSize":-4,"labelPadding":7,"title":null}},
"stroke":{"field":"s","type":"nominal","scale":{"domain":["wo","w","ex"],"range":["black","#ff0000","#ff0000"]},"legend":null},
"fill":{"field":"s","type":"nominal","scale":{"domain":["wo","w","ex"],"range":["white","white","#ff0000"]},"legend":null},
"shape":{"field":"s","type":"nominal","scale":{"domain":["wo","w","ex"],"range":["circle","square","square"]},"legend":null}}},
{"transform":[{"filter":"datum.p=='R3'"}],"mark":{"type":"point","opacity":0},"encoding":{
"x":{"field":"x","type":"quantitative","scale":{"domain":[3,20],"nice":false,"zero":false},"axis":{"orient":"bottom","values":[4,5,6,8,9,10,12,13,14,16,17,18],"tickSize":-2,"labels":false,"title":null}},
"y":{"field":"y","type":"quantitative","scale":{"domain":[-0.82,0.6],"nice":false,"zero":false},"axis":{"orient":"left","values":[-0.75,-0.25,0.25],"tickSize":-2,"labels":false,"title":null}}}},
{"transform":[{"filter":"datum.p=='R3'"}],"mark":{"type":"point","opacity":0},"encoding":{
"x":{"field":"x","type":"quantitative","scale":{"domain":[3,20],"nice":false,"zero":false},"axis":{"orient":"top","values":[4,5,6,8,9,10,12,13,14,16,17,18],"tickSize":-2,"labels":false,"title":null}},
"y":{"field":"y","type":"quantitative","scale":{"domain":[-0.82,0.6],"nice":false,"zero":false},"axis":{"orient":"right","values":[-0.75,-0.25,0.25],"tickSize":-2,"labels":false,"title":null}}}},
{"data":{"values":[{}]},"mark":{"type":"rect","fill":"white","stroke":"#333","strokeWidth":1.2},"encoding":{"x":{"datum":4.03,"axis":null},"x2":{"datum":7.73},"y":{"datum":-0.24,"axis":null},"y2":{"datum":-0.72}}},
{"data":{"values":[{}]},"mark":{"type":"text","text":"76","fontSize":7,"font":"Liberation Serif","align":"right","baseline":"middle","dx":-3,"dy":-3,"color":"#222"},"encoding":{"x":{"datum":5.88,"axis":null},"y":{"datum":-0.48,"axis":null}}},
{"data":{"values":[{}]},"mark":{"type":"text","text":"Ge","fontSize":13,"font":"Liberation Serif","align":"left","baseline":"middle","dx":-3,"dy":2,"color":"#222"},"encoding":{"x":{"datum":5.88,"axis":null},"y":{"datum":-0.48,"axis":null}}}
],
"resolve":{"axis":{"x":"independent","y":"independent"}}},

{"width":111,"height":44,
"layer":[
{"transform":[{"filter":"datum.p=='L4'"}],"mark":{"type":"line","strokeWidth":0.8,"clip":false},"encoding":{
"x":{"field":"x","type":"quantitative","scale":{"domain":[5.15,21],"nice":false,"zero":false},"axis":{"orient":"bottom","values":[8,12,16,20],"tickSize":-4,"labels":false,"title":null}},
"y":{"field":"y","type":"quantitative","scale":{"domain":[-0.68,0.49],"nice":false,"zero":false},"axis":{"orient":"left","values":[-0.4,0,0.4],"tickSize":-4,"labelPadding":8,"title":"S(I)","titleX":-30,"titleY":47,"titleFontSize":16,"titleAngle":-90,"titleAlign":"center","titleBaseline":"middle"}},
"color":{"field":"s","type":"nominal","scale":{"domain":["wo","w","ex"],"range":["black","#ff0000","#ff0000"]},"legend":null}}},
{"transform":[{"filter":"datum.p=='L4'"}],"mark":{"type":"point","size":13,"strokeWidth":0.8,"opacity":1,"clip":false},"encoding":{
"x":{"field":"x","type":"quantitative","scale":{"domain":[5.15,21],"nice":false,"zero":false},"axis":{"orient":"top","values":[8,12,16,20],"tickSize":-4,"labels":false,"title":null}},
"y":{"field":"y","type":"quantitative","scale":{"domain":[-0.68,0.49],"nice":false,"zero":false},"axis":{"orient":"right","values":[-0.4,0,0.4],"tickSize":-4,"labels":false,"title":null}},
"stroke":{"field":"s","type":"nominal","scale":{"domain":["wo","w","ex"],"range":["black","#ff0000","#ff0000"]},"legend":null},
"fill":{"field":"s","type":"nominal","scale":{"domain":["wo","w","ex"],"range":["white","white","#ff0000"]},"legend":null},
"shape":{"field":"s","type":"nominal","scale":{"domain":["wo","w","ex"],"range":["circle","square","square"]},"legend":null}}},
{"transform":[{"filter":"datum.p=='L4'"}],"mark":{"type":"point","opacity":0},"encoding":{
"x":{"field":"x","type":"quantitative","scale":{"domain":[5.15,21],"nice":false,"zero":false},"axis":{"orient":"bottom","values":[6,7,9,10,11,13,14,15,17,18,19],"tickSize":-2,"labels":false,"title":null}},
"y":{"field":"y","type":"quantitative","scale":{"domain":[-0.68,0.49],"nice":false,"zero":false},"axis":{"orient":"left","values":[-0.6,-0.2,0.2],"tickSize":-2,"labels":false,"title":null}}}},
{"transform":[{"filter":"datum.p=='L4'"}],"mark":{"type":"point","opacity":0},"encoding":{
"x":{"field":"x","type":"quantitative","scale":{"domain":[5.15,21],"nice":false,"zero":false},"axis":{"orient":"top","values":[6,7,9,10,11,13,14,15,17,18,19],"tickSize":-2,"labels":false,"title":null}},
"y":{"field":"y","type":"quantitative","scale":{"domain":[-0.68,0.49],"nice":false,"zero":false},"axis":{"orient":"right","values":[-0.6,-0.2,0.2],"tickSize":-2,"labels":false,"title":null}}}}
],
"resolve":{"axis":{"x":"independent","y":"independent"}}},

{"width":115,"height":44,
"layer":[
{"transform":[{"filter":"datum.p=='R4'"}],"mark":{"type":"line","strokeWidth":0.8,"clip":false},"encoding":{
"x":{"field":"x","type":"quantitative","scale":{"domain":[3,20],"nice":false,"zero":false},"axis":{"orient":"bottom","values":[7,11,15,19],"tickSize":-4,"labels":false,"title":null}},
"y":{"field":"y","type":"quantitative","scale":{"domain":[-0.32,0.29],"nice":false,"zero":false},"axis":{"orient":"left","values":[-0.2,0,0.2],"tickSize":-4,"labels":false,"title":null}},
"color":{"field":"s","type":"nominal","scale":{"domain":["wo","w","ex"],"range":["black","#ff0000","#ff0000"]},"legend":null}}},
{"transform":[{"filter":"datum.p=='R4'"}],"mark":{"type":"point","size":13,"strokeWidth":0.8,"opacity":1,"clip":false},"encoding":{
"x":{"field":"x","type":"quantitative","scale":{"domain":[3,20],"nice":false,"zero":false},"axis":{"orient":"top","values":[7,11,15,19],"tickSize":-4,"labels":false,"title":null}},
"y":{"field":"y","type":"quantitative","scale":{"domain":[-0.32,0.29],"nice":false,"zero":false},"axis":{"orient":"right","values":[-0.2,0,0.2],"tickSize":-4,"labelPadding":7,"title":null}},
"stroke":{"field":"s","type":"nominal","scale":{"domain":["wo","w","ex"],"range":["black","#ff0000","#ff0000"]},"legend":null},
"fill":{"field":"s","type":"nominal","scale":{"domain":["wo","w","ex"],"range":["white","white","#ff0000"]},"legend":null},
"shape":{"field":"s","type":"nominal","scale":{"domain":["wo","w","ex"],"range":["circle","square","square"]},"legend":null}}},
{"transform":[{"filter":"datum.p=='R4'"}],"mark":{"type":"point","opacity":0},"encoding":{
"x":{"field":"x","type":"quantitative","scale":{"domain":[3,20],"nice":false,"zero":false},"axis":{"orient":"bottom","values":[4,5,6,8,9,10,12,13,14,16,17,18],"tickSize":-2,"labels":false,"title":null}},
"y":{"field":"y","type":"quantitative","scale":{"domain":[-0.32,0.29],"nice":false,"zero":false},"axis":{"orient":"left","values":[-0.3,-0.1,0.1],"tickSize":-2,"labels":false,"title":null}}}},
{"transform":[{"filter":"datum.p=='R4'"}],"mark":{"type":"point","opacity":0},"encoding":{
"x":{"field":"x","type":"quantitative","scale":{"domain":[3,20],"nice":false,"zero":false},"axis":{"orient":"top","values":[4,5,6,8,9,10,12,13,14,16,17,18],"tickSize":-2,"labels":false,"title":null}},
"y":{"field":"y","type":"quantitative","scale":{"domain":[-0.32,0.29],"nice":false,"zero":false},"axis":{"orient":"right","values":[-0.3,-0.1,0.1],"tickSize":-2,"labels":false,"title":null}}}},
{"data":{"values":[{}]},"mark":{"type":"rect","fill":"white","stroke":"#333","strokeWidth":1.2},"encoding":{"x":{"datum":4.03,"axis":null},"x2":{"datum":7.73},"y":{"datum":-0.057,"axis":null},"y2":{"datum":-0.265}}},
{"data":{"values":[{}]},"mark":{"type":"text","text":"154","fontSize":7,"font":"Liberation Serif","align":"right","baseline":"middle","dx":-2,"dy":-3,"color":"#222"},"encoding":{"x":{"datum":5.88,"axis":null},"y":{"datum":-0.161,"axis":null}}},
{"data":{"values":[{}]},"mark":{"type":"text","text":"Gd","fontSize":13,"font":"Liberation Serif","align":"left","baseline":"middle","dx":-2,"dy":2,"color":"#222"},"encoding":{"x":{"datum":5.88,"axis":null},"y":{"datum":-0.161,"axis":null}}}
],
"resolve":{"axis":{"x":"independent","y":"independent"}}},

{"width":111,"height":45,
"layer":[
{"transform":[{"filter":"datum.p=='L5'"}],"mark":{"type":"line","strokeWidth":0.8,"clip":false},"encoding":{
"x":{"field":"x","type":"quantitative","scale":{"domain":[5.15,21],"nice":false,"zero":false},"axis":{"orient":"bottom","values":[8,12,16,20],"tickSize":-4,"labels":false,"title":null}},
"y":{"field":"y","type":"quantitative","scale":{"domain":[-0.74,0.71],"nice":false,"zero":false},"axis":{"orient":"left","values":[-0.4,0,0.4],"tickSize":-4,"labelPadding":8,"title":null}},
"color":{"field":"s","type":"nominal","scale":{"domain":["wo","w","ex"],"range":["black","#ff0000","#ff0000"]},"legend":null}}},
{"transform":[{"filter":"datum.p=='L5'"}],"mark":{"type":"point","size":13,"strokeWidth":0.8,"opacity":1,"clip":false},"encoding":{
"x":{"field":"x","type":"quantitative","scale":{"domain":[5.15,21],"nice":false,"zero":false},"axis":{"orient":"top","values":[8,12,16,20],"tickSize":-4,"labels":false,"title":null}},
"y":{"field":"y","type":"quantitative","scale":{"domain":[-0.74,0.71],"nice":false,"zero":false},"axis":{"orient":"right","values":[-0.4,0,0.4],"tickSize":-4,"labels":false,"title":null}},
"stroke":{"field":"s","type":"nominal","scale":{"domain":["wo","w","ex"],"range":["black","#ff0000","#ff0000"]},"legend":null},
"fill":{"field":"s","type":"nominal","scale":{"domain":["wo","w","ex"],"range":["white","white","#ff0000"]},"legend":null},
"shape":{"field":"s","type":"nominal","scale":{"domain":["wo","w","ex"],"range":["circle","square","square"]},"legend":null}}},
{"transform":[{"filter":"datum.p=='L5'"}],"mark":{"type":"point","opacity":0},"encoding":{
"x":{"field":"x","type":"quantitative","scale":{"domain":[5.15,21],"nice":false,"zero":false},"axis":{"orient":"bottom","values":[6,7,9,10,11,13,14,15,17,18,19],"tickSize":-2,"labels":false,"title":null}},
"y":{"field":"y","type":"quantitative","scale":{"domain":[-0.74,0.71],"nice":false,"zero":false},"axis":{"orient":"left","values":[-0.6,-0.2,0.2,0.6],"tickSize":-2,"labels":false,"title":null}}}},
{"transform":[{"filter":"datum.p=='L5'"}],"mark":{"type":"point","opacity":0},"encoding":{
"x":{"field":"x","type":"quantitative","scale":{"domain":[5.15,21],"nice":false,"zero":false},"axis":{"orient":"top","values":[6,7,9,10,11,13,14,15,17,18,19],"tickSize":-2,"labels":false,"title":null}},
"y":{"field":"y","type":"quantitative","scale":{"domain":[-0.74,0.71],"nice":false,"zero":false},"axis":{"orient":"right","values":[-0.6,-0.2,0.2,0.6],"tickSize":-2,"labels":false,"title":null}}}}
],
"resolve":{"axis":{"x":"independent","y":"independent"}}},

{"width":115,"height":45,
"layer":[
{"transform":[{"filter":"datum.p=='R5'"}],"mark":{"type":"line","strokeWidth":0.8,"clip":false},"encoding":{
"x":{"field":"x","type":"quantitative","scale":{"domain":[3,20],"nice":false,"zero":false},"axis":{"orient":"bottom","values":[7,11,15,19],"tickSize":-4,"labels":false,"title":null}},
"y":{"field":"y","type":"quantitative","scale":{"domain":[-0.32,0.3],"nice":false,"zero":false},"axis":{"orient":"left","values":[-0.2,0,0.2],"tickSize":-4,"labels":false,"title":null}},
"color":{"field":"s","type":"nominal","scale":{"domain":["wo","w","ex"],"range":["black","#ff0000","#ff0000"]},"legend":null}}},
{"transform":[{"filter":"datum.p=='R5'"}],"mark":{"type":"point","size":13,"strokeWidth":0.8,"opacity":1,"clip":false},"encoding":{
"x":{"field":"x","type":"quantitative","scale":{"domain":[3,20],"nice":false,"zero":false},"axis":{"orient":"top","values":[7,11,15,19],"tickSize":-4,"labels":false,"title":null}},
"y":{"field":"y","type":"quantitative","scale":{"domain":[-0.32,0.3],"nice":false,"zero":false},"axis":{"orient":"right","values":[-0.2,0,0.2],"tickSize":-4,"labelPadding":7,"title":null}},
"stroke":{"field":"s","type":"nominal","scale":{"domain":["wo","w","ex"],"range":["black","#ff0000","#ff0000"]},"legend":null},
"fill":{"field":"s","type":"nominal","scale":{"domain":["wo","w","ex"],"range":["white","white","#ff0000"]},"legend":null},
"shape":{"field":"s","type":"nominal","scale":{"domain":["wo","w","ex"],"range":["circle","square","square"]},"legend":null}}},
{"transform":[{"filter":"datum.p=='R5'"}],"mark":{"type":"point","opacity":0},"encoding":{
"x":{"field":"x","type":"quantitative","scale":{"domain":[3,20],"nice":false,"zero":false},"axis":{"orient":"bottom","values":[4,5,6,8,9,10,12,13,14,16,17,18],"tickSize":-2,"labels":false,"title":null}},
"y":{"field":"y","type":"quantitative","scale":{"domain":[-0.32,0.3],"nice":false,"zero":false},"axis":{"orient":"left","values":[-0.3,-0.1,0.1],"tickSize":-2,"labels":false,"title":null}}}},
{"transform":[{"filter":"datum.p=='R5'"}],"mark":{"type":"point","opacity":0},"encoding":{
"x":{"field":"x","type":"quantitative","scale":{"domain":[3,20],"nice":false,"zero":false},"axis":{"orient":"top","values":[4,5,6,8,9,10,12,13,14,16,17,18],"tickSize":-2,"labels":false,"title":null}},
"y":{"field":"y","type":"quantitative","scale":{"domain":[-0.32,0.3],"nice":false,"zero":false},"axis":{"orient":"right","values":[-0.3,-0.1,0.1],"tickSize":-2,"labels":false,"title":null}}}},
{"data":{"values":[{}]},"mark":{"type":"rect","fill":"white","stroke":"#333","strokeWidth":1.2},"encoding":{"x":{"datum":4.03,"axis":null},"x2":{"datum":7.73},"y":{"datum":-0.058,"axis":null},"y2":{"datum":-0.28}}},
{"data":{"values":[{}]},"mark":{"type":"text","text":"156","fontSize":7,"font":"Liberation Serif","align":"right","baseline":"middle","dx":-2,"dy":-3,"color":"#222"},"encoding":{"x":{"datum":5.88,"axis":null},"y":{"datum":-0.169,"axis":null}}},
{"data":{"values":[{}]},"mark":{"type":"text","text":"Gd","fontSize":13,"font":"Liberation Serif","align":"left","baseline":"middle","dx":-2,"dy":2,"color":"#222"},"encoding":{"x":{"datum":5.88,"axis":null},"y":{"datum":-0.169,"axis":null}}}
],
"resolve":{"axis":{"x":"independent","y":"independent"}}},

{"width":111,"height":45,
"layer":[
{"transform":[{"filter":"datum.p=='L6'"}],"mark":{"type":"line","strokeWidth":0.8,"clip":false},"encoding":{
"x":{"field":"x","type":"quantitative","scale":{"domain":[5.15,21],"nice":false,"zero":false},"axis":{"orient":"bottom","values":[8,12,16,20],"tickSize":-4,"labels":false,"title":null}},
"y":{"field":"y","type":"quantitative","scale":{"domain":[-0.29,0.33],"nice":false,"zero":false},"axis":{"orient":"left","values":[-0.2,0,0.2],"tickSize":-4,"labelPadding":8,"title":null}},
"color":{"field":"s","type":"nominal","scale":{"domain":["wo","w","ex"],"range":["black","#ff0000","#ff0000"]},"legend":null}}},
{"transform":[{"filter":"datum.p=='L6'"}],"mark":{"type":"point","size":13,"strokeWidth":0.8,"opacity":1,"clip":false},"encoding":{
"x":{"field":"x","type":"quantitative","scale":{"domain":[5.15,21],"nice":false,"zero":false},"axis":{"orient":"top","values":[8,12,16,20],"tickSize":-4,"labels":false,"title":null}},
"y":{"field":"y","type":"quantitative","scale":{"domain":[-0.29,0.33],"nice":false,"zero":false},"axis":{"orient":"right","values":[-0.2,0,0.2],"tickSize":-4,"labels":false,"title":null}},
"stroke":{"field":"s","type":"nominal","scale":{"domain":["wo","w","ex"],"range":["black","#ff0000","#ff0000"]},"legend":null},
"fill":{"field":"s","type":"nominal","scale":{"domain":["wo","w","ex"],"range":["white","white","#ff0000"]},"legend":null},
"shape":{"field":"s","type":"nominal","scale":{"domain":["wo","w","ex"],"range":["circle","square","square"]},"legend":null}}},
{"transform":[{"filter":"datum.p=='L6'"}],"mark":{"type":"point","opacity":0},"encoding":{
"x":{"field":"x","type":"quantitative","scale":{"domain":[5.15,21],"nice":false,"zero":false},"axis":{"orient":"bottom","values":[6,7,9,10,11,13,14,15,17,18,19],"tickSize":-2,"labels":false,"title":null}},
"y":{"field":"y","type":"quantitative","scale":{"domain":[-0.29,0.33],"nice":false,"zero":false},"axis":{"orient":"left","values":[-0.1,0.1,0.3],"tickSize":-2,"labels":false,"title":null}}}},
{"transform":[{"filter":"datum.p=='L6'"}],"mark":{"type":"point","opacity":0},"encoding":{
"x":{"field":"x","type":"quantitative","scale":{"domain":[5.15,21],"nice":false,"zero":false},"axis":{"orient":"top","values":[6,7,9,10,11,13,14,15,17,18,19],"tickSize":-2,"labels":false,"title":null}},
"y":{"field":"y","type":"quantitative","scale":{"domain":[-0.29,0.33],"nice":false,"zero":false},"axis":{"orient":"right","values":[-0.1,0.1,0.3],"tickSize":-2,"labels":false,"title":null}}}}
],
"resolve":{"axis":{"x":"independent","y":"independent"}}},

{"width":115,"height":45,
"layer":[
{"transform":[{"filter":"datum.p=='R6'"}],"mark":{"type":"line","strokeWidth":0.8,"clip":false},"encoding":{
"x":{"field":"x","type":"quantitative","scale":{"domain":[3,20],"nice":false,"zero":false},"axis":{"orient":"bottom","values":[7,11,15,19],"tickSize":-4,"labels":false,"title":null}},
"y":{"field":"y","type":"quantitative","scale":{"domain":[-5.9,3.75],"nice":false,"zero":false},"axis":{"orient":"left","values":[-3,0,3],"tickSize":-4,"labels":false,"title":null}},
"color":{"field":"s","type":"nominal","scale":{"domain":["wo","w","ex"],"range":["black","#ff0000","#ff0000"]},"legend":null}}},
{"transform":[{"filter":"datum.p=='R6'"}],"mark":{"type":"point","size":13,"strokeWidth":0.8,"opacity":1,"clip":false},"encoding":{
"x":{"field":"x","type":"quantitative","scale":{"domain":[3,20],"nice":false,"zero":false},"axis":{"orient":"top","values":[7,11,15,19],"tickSize":-4,"labels":false,"title":null}},
"y":{"field":"y","type":"quantitative","scale":{"domain":[-5.9,3.75],"nice":false,"zero":false},"axis":{"orient":"right","values":[-3,0,3],"tickSize":-4,"labelPadding":7,"title":null}},
"stroke":{"field":"s","type":"nominal","scale":{"domain":["wo","w","ex"],"range":["black","#ff0000","#ff0000"]},"legend":null},
"fill":{"field":"s","type":"nominal","scale":{"domain":["wo","w","ex"],"range":["white","white","#ff0000"]},"legend":null},
"shape":{"field":"s","type":"nominal","scale":{"domain":["wo","w","ex"],"range":["circle","square","square"]},"legend":null}}},
{"transform":[{"filter":"datum.p=='R6'"}],"mark":{"type":"point","opacity":0},"encoding":{
"x":{"field":"x","type":"quantitative","scale":{"domain":[3,20],"nice":false,"zero":false},"axis":{"orient":"bottom","values":[4,5,6,8,9,10,12,13,14,16,17,18],"tickSize":-2,"labels":false,"title":null}},
"y":{"field":"y","type":"quantitative","scale":{"domain":[-5.9,3.75],"nice":false,"zero":false},"axis":{"orient":"left","values":[-4.5,-1.5,1.5],"tickSize":-2,"labels":false,"title":null}}}},
{"transform":[{"filter":"datum.p=='R6'"}],"mark":{"type":"point","opacity":0},"encoding":{
"x":{"field":"x","type":"quantitative","scale":{"domain":[3,20],"nice":false,"zero":false},"axis":{"orient":"top","values":[4,5,6,8,9,10,12,13,14,16,17,18],"tickSize":-2,"labels":false,"title":null}},
"y":{"field":"y","type":"quantitative","scale":{"domain":[-5.9,3.75],"nice":false,"zero":false},"axis":{"orient":"right","values":[-4.5,-1.5,1.5],"tickSize":-2,"labels":false,"title":null}}}},
{"data":{"values":[{}]},"mark":{"type":"rect","fill":"white","stroke":"#333","strokeWidth":1.2},"encoding":{"x":{"datum":4.03,"axis":null},"x2":{"datum":7.73},"y":{"datum":-1.19,"axis":null},"y2":{"datum":-4.83}}},
{"data":{"values":[{}]},"mark":{"type":"text","text":"180","fontSize":7,"font":"Liberation Serif","align":"right","baseline":"middle","dx":-2,"dy":-3,"color":"#222"},"encoding":{"x":{"datum":5.88,"axis":null},"y":{"datum":-3.01,"axis":null}}},
{"data":{"values":[{}]},"mark":{"type":"text","text":"Hf","fontSize":13,"font":"Liberation Serif","align":"left","baseline":"middle","dx":-2,"dy":2,"color":"#222"},"encoding":{"x":{"datum":5.88,"axis":null},"y":{"datum":-3.01,"axis":null}}}
],
"resolve":{"axis":{"x":"independent","y":"independent"}}},

{"width":111,"height":44,
"layer":[
{"transform":[{"filter":"datum.p=='L7'"}],"mark":{"type":"line","strokeWidth":0.8,"clip":false},"encoding":{
"x":{"field":"x","type":"quantitative","scale":{"domain":[5.15,21],"nice":false,"zero":false},"axis":{"orient":"bottom","values":[8,12,16,20],"tickSize":-4,"labels":false,"title":null}},
"y":{"field":"y","type":"quantitative","scale":{"domain":[-0.8,0.77],"nice":false,"zero":false},"axis":{"orient":"left","values":[-0.5,0,0.5],"tickSize":-4,"labelPadding":8,"title":null}},
"color":{"field":"s","type":"nominal","scale":{"domain":["wo","w","ex"],"range":["black","#ff0000","#ff0000"]},"legend":null}}},
{"transform":[{"filter":"datum.p=='L7'"}],"mark":{"type":"point","size":13,"strokeWidth":0.8,"opacity":1,"clip":false},"encoding":{
"x":{"field":"x","type":"quantitative","scale":{"domain":[5.15,21],"nice":false,"zero":false},"axis":{"orient":"top","values":[8,12,16,20],"tickSize":-4,"labels":false,"title":null}},
"y":{"field":"y","type":"quantitative","scale":{"domain":[-0.8,0.77],"nice":false,"zero":false},"axis":{"orient":"right","values":[-0.5,0,0.5],"tickSize":-4,"labels":false,"title":null}},
"stroke":{"field":"s","type":"nominal","scale":{"domain":["wo","w","ex"],"range":["black","#ff0000","#ff0000"]},"legend":null},
"fill":{"field":"s","type":"nominal","scale":{"domain":["wo","w","ex"],"range":["white","white","#ff0000"]},"legend":null},
"shape":{"field":"s","type":"nominal","scale":{"domain":["wo","w","ex"],"range":["circle","square","square"]},"legend":null}}},
{"transform":[{"filter":"datum.p=='L7'"}],"mark":{"type":"point","opacity":0},"encoding":{
"x":{"field":"x","type":"quantitative","scale":{"domain":[5.15,21],"nice":false,"zero":false},"axis":{"orient":"bottom","values":[6,7,9,10,11,13,14,15,17,18,19],"tickSize":-2,"labels":false,"title":null}},
"y":{"field":"y","type":"quantitative","scale":{"domain":[-0.8,0.77],"nice":false,"zero":false},"axis":{"orient":"left","values":[-0.75,-0.25,0.25,0.75],"tickSize":-2,"labels":false,"title":null}}}},
{"transform":[{"filter":"datum.p=='L7'"}],"mark":{"type":"point","opacity":0},"encoding":{
"x":{"field":"x","type":"quantitative","scale":{"domain":[5.15,21],"nice":false,"zero":false},"axis":{"orient":"top","values":[6,7,9,10,11,13,14,15,17,18,19],"tickSize":-2,"labels":false,"title":null}},
"y":{"field":"y","type":"quantitative","scale":{"domain":[-0.8,0.77],"nice":false,"zero":false},"axis":{"orient":"right","values":[-0.75,-0.25,0.25,0.75],"tickSize":-2,"labels":false,"title":null}}}}
],
"resolve":{"axis":{"x":"independent","y":"independent"}}},

{"width":115,"height":44,
"layer":[
{"transform":[{"filter":"datum.p=='R7'"}],"mark":{"type":"line","strokeWidth":0.8,"clip":false},"encoding":{
"x":{"field":"x","type":"quantitative","scale":{"domain":[3,20],"nice":false,"zero":false},"axis":{"orient":"bottom","values":[7,11,15,19],"tickSize":-4,"labels":false,"title":null}},
"y":{"field":"y","type":"quantitative","scale":{"domain":[-0.84,1.05],"nice":false,"zero":false},"axis":{"orient":"left","values":[-0.6,0,0.6],"tickSize":-4,"labels":false,"title":null}},
"color":{"field":"s","type":"nominal","scale":{"domain":["wo","w","ex"],"range":["black","#ff0000","#ff0000"]},"legend":null}}},
{"transform":[{"filter":"datum.p=='R7'"}],"mark":{"type":"point","size":13,"strokeWidth":0.8,"opacity":1,"clip":false},"encoding":{
"x":{"field":"x","type":"quantitative","scale":{"domain":[3,20],"nice":false,"zero":false},"axis":{"orient":"top","values":[7,11,15,19],"tickSize":-4,"labels":false,"title":null}},
"y":{"field":"y","type":"quantitative","scale":{"domain":[-0.84,1.05],"nice":false,"zero":false},"axis":{"orient":"right","values":[-0.6,0,0.6],"tickSize":-4,"labelPadding":7,"title":null}},
"stroke":{"field":"s","type":"nominal","scale":{"domain":["wo","w","ex"],"range":["black","#ff0000","#ff0000"]},"legend":null},
"fill":{"field":"s","type":"nominal","scale":{"domain":["wo","w","ex"],"range":["white","white","#ff0000"]},"legend":null},
"shape":{"field":"s","type":"nominal","scale":{"domain":["wo","w","ex"],"range":["circle","square","square"]},"legend":null}}},
{"transform":[{"filter":"datum.p=='R7'"}],"mark":{"type":"point","opacity":0},"encoding":{
"x":{"field":"x","type":"quantitative","scale":{"domain":[3,20],"nice":false,"zero":false},"axis":{"orient":"bottom","values":[4,5,6,8,9,10,12,13,14,16,17,18],"tickSize":-2,"labels":false,"title":null}},
"y":{"field":"y","type":"quantitative","scale":{"domain":[-0.84,1.05],"nice":false,"zero":false},"axis":{"orient":"left","values":[-0.3,0.3,0.9],"tickSize":-2,"labels":false,"title":null}}}},
{"transform":[{"filter":"datum.p=='R7'"}],"mark":{"type":"point","opacity":0},"encoding":{
"x":{"field":"x","type":"quantitative","scale":{"domain":[3,20],"nice":false,"zero":false},"axis":{"orient":"top","values":[4,5,6,8,9,10,12,13,14,16,17,18],"tickSize":-2,"labels":false,"title":null}},
"y":{"field":"y","type":"quantitative","scale":{"domain":[-0.84,1.05],"nice":false,"zero":false},"axis":{"orient":"right","values":[-0.3,0.3,0.9],"tickSize":-2,"labels":false,"title":null}}}},
{"data":{"values":[{}]},"mark":{"type":"rect","fill":"white","stroke":"#333","strokeWidth":1.2},"encoding":{"x":{"datum":4.03,"axis":null},"x2":{"datum":7.73},"y":{"datum":-0.023,"axis":null},"y2":{"datum":-0.71}}},
{"data":{"values":[{}]},"mark":{"type":"text","text":"232","fontSize":7,"font":"Liberation Serif","align":"right","baseline":"middle","dx":-2,"dy":-3,"color":"#222"},"encoding":{"x":{"datum":5.88,"axis":null},"y":{"datum":-0.367,"axis":null}}},
{"data":{"values":[{}]},"mark":{"type":"text","text":"Th","fontSize":13,"font":"Liberation Serif","align":"left","baseline":"middle","dx":-2,"dy":2,"color":"#222"},"encoding":{"x":{"datum":5.88,"axis":null},"y":{"datum":-0.367,"axis":null}}}
],
"resolve":{"axis":{"x":"independent","y":"independent"}}},

{"width":111,"height":44,
"layer":[
{"transform":[{"filter":"datum.p=='L8'"}],"mark":{"type":"line","strokeWidth":0.8,"clip":false},"encoding":{
"x":{"field":"x","type":"quantitative","scale":{"domain":[5.15,21],"nice":false,"zero":false},"axis":{"orient":"bottom","values":[8,12,16,20],"tickSize":-4,"labelPadding":7,"title":"Spin ( ħ)","titleX":120,"titleY":24,"titleFontSize":16,"titleBaseline":"middle","titleAlign":"center"}},
"y":{"field":"y","type":"quantitative","scale":{"domain":[-0.4,0.4],"nice":false,"zero":false},"axis":{"orient":"left","values":[-0.3,0,0.3],"tickSize":-4,"labelPadding":8,"title":null}},
"color":{"field":"s","type":"nominal","scale":{"domain":["wo","w","ex"],"range":["black","#ff0000","#ff0000"]},"legend":null}}},
{"transform":[{"filter":"datum.p=='L8'"}],"mark":{"type":"point","size":13,"strokeWidth":0.8,"opacity":1,"clip":false},"encoding":{
"x":{"field":"x","type":"quantitative","scale":{"domain":[5.15,21],"nice":false,"zero":false},"axis":{"orient":"top","values":[8,12,16,20],"tickSize":-4,"labels":false,"title":null}},
"y":{"field":"y","type":"quantitative","scale":{"domain":[-0.4,0.4],"nice":false,"zero":false},"axis":{"orient":"right","values":[-0.3,0,0.3],"tickSize":-4,"labels":false,"title":null}},
"stroke":{"field":"s","type":"nominal","scale":{"domain":["wo","w","ex"],"range":["black","#ff0000","#ff0000"]},"legend":null},
"fill":{"field":"s","type":"nominal","scale":{"domain":["wo","w","ex"],"range":["white","white","#ff0000"]},"legend":null},
"shape":{"field":"s","type":"nominal","scale":{"domain":["wo","w","ex"],"range":["circle","square","square"]},"legend":null}}},
{"transform":[{"filter":"datum.p=='L8'"}],"mark":{"type":"point","opacity":0},"encoding":{
"x":{"field":"x","type":"quantitative","scale":{"domain":[5.15,21],"nice":false,"zero":false},"axis":{"orient":"bottom","values":[6,7,9,10,11,13,14,15,17,18,19],"tickSize":-2,"labels":false,"title":null}},
"y":{"field":"y","type":"quantitative","scale":{"domain":[-0.4,0.4],"nice":false,"zero":false},"axis":{"orient":"left","values":[-0.15,0.15],"tickSize":-2,"labels":false,"title":null}}}},
{"transform":[{"filter":"datum.p=='L8'"}],"mark":{"type":"point","opacity":0},"encoding":{
"x":{"field":"x","type":"quantitative","scale":{"domain":[5.15,21],"nice":false,"zero":false},"axis":{"orient":"top","values":[6,7,9,10,11,13,14,15,17,18,19],"tickSize":-2,"labels":false,"title":null}},
"y":{"field":"y","type":"quantitative","scale":{"domain":[-0.4,0.4],"nice":false,"zero":false},"axis":{"orient":"right","values":[-0.15,0.15],"tickSize":-2,"labels":false,"title":null}}}}
],
"resolve":{"axis":{"x":"independent","y":"independent"}}},

{"width":115,"height":44,
"layer":[
{"transform":[{"filter":"datum.p=='R8'"}],"mark":{"type":"line","strokeWidth":0.8,"clip":false},"encoding":{
"x":{"field":"x","type":"quantitative","scale":{"domain":[3,20],"nice":false,"zero":false},"axis":{"orient":"bottom","values":[7,11,15,19],"tickSize":-4,"labelPadding":7,"title":null}},
"y":{"field":"y","type":"quantitative","scale":{"domain":[-0.82,1.75],"nice":false,"zero":false},"axis":{"orient":"left","values":[-0.7,0,0.7],"tickSize":-4,"labels":false,"title":null}},
"color":{"field":"s","type":"nominal","scale":{"domain":["wo","w","ex"],"range":["black","#ff0000","#ff0000"]},"legend":null}}},
{"transform":[{"filter":"datum.p=='R8'"}],"mark":{"type":"point","size":13,"strokeWidth":0.8,"opacity":1,"clip":false},"encoding":{
"x":{"field":"x","type":"quantitative","scale":{"domain":[3,20],"nice":false,"zero":false},"axis":{"orient":"top","values":[7,11,15,19],"tickSize":-4,"labels":false,"title":null}},
"y":{"field":"y","type":"quantitative","scale":{"domain":[-0.82,1.75],"nice":false,"zero":false},"axis":{"orient":"right","values":[-0.7,0,0.7],"tickSize":-4,"labelPadding":7,"title":null}},
"stroke":{"field":"s","type":"nominal","scale":{"domain":["wo","w","ex"],"range":["black","#ff0000","#ff0000"]},"legend":null},
"fill":{"field":"s","type":"nominal","scale":{"domain":["wo","w","ex"],"range":["white","white","#ff0000"]},"legend":null},
"shape":{"field":"s","type":"nominal","scale":{"domain":["wo","w","ex"],"range":["circle","square","square"]},"legend":null}}},
{"transform":[{"filter":"datum.p=='R8'"}],"mark":{"type":"point","opacity":0},"encoding":{
"x":{"field":"x","type":"quantitative","scale":{"domain":[3,20],"nice":false,"zero":false},"axis":{"orient":"bottom","values":[4,5,6,8,9,10,12,13,14,16,17,18],"tickSize":-2,"labels":false,"title":null}},
"y":{"field":"y","type":"quantitative","scale":{"domain":[-0.82,1.75],"nice":false,"zero":false},"axis":{"orient":"left","values":[-0.35,0.35,1.05],"tickSize":-2,"labels":false,"title":null}}}},
{"transform":[{"filter":"datum.p=='R8'"}],"mark":{"type":"point","opacity":0},"encoding":{
"x":{"field":"x","type":"quantitative","scale":{"domain":[3,20],"nice":false,"zero":false},"axis":{"orient":"top","values":[4,5,6,8,9,10,12,13,14,16,17,18],"tickSize":-2,"labels":false,"title":null}},
"y":{"field":"y","type":"quantitative","scale":{"domain":[-0.82,1.75],"nice":false,"zero":false},"axis":{"orient":"right","values":[-0.35,0.35,1.05],"tickSize":-2,"labels":false,"title":null}}}},
{"data":{"values":[{}]},"mark":{"type":"rect","fill":"white","stroke":"#333","strokeWidth":1.2},"encoding":{"x":{"datum":4.18,"axis":null},"x2":{"datum":8.03},"y":{"datum":1.46,"axis":null},"y2":{"datum":0.585}}},
{"data":{"values":[{}]},"mark":{"type":"text","text":"238","fontSize":7,"font":"Liberation Serif","align":"right","baseline":"middle","dx":-2,"dy":-3,"color":"#222"},"encoding":{"x":{"datum":6.1,"axis":null},"y":{"datum":1.02,"axis":null}}},
{"data":{"values":[{}]},"mark":{"type":"text","text":"U","fontSize":13,"font":"Liberation Serif","align":"left","baseline":"middle","dx":-2,"dy":2,"color":"#222"},"encoding":{"x":{"datum":6.1,"axis":null},"y":{"datum":1.02,"axis":null}}}
],
"resolve":{"axis":{"x":"independent","y":"independent"}}}
]
}
